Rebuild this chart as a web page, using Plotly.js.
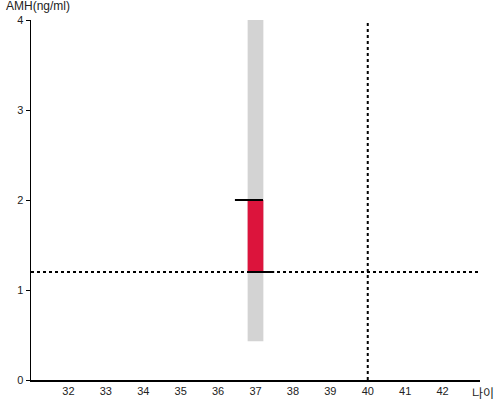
<!DOCTYPE html>
<html><head><meta charset="utf-8">
<script src="https://cdn.plot.ly/plotly-3.0.1.min.js"></script>
<style>html,body{margin:0;padding:0;background:#fff}#chart{width:500px;height:400px}</style>
</head><body><div id="chart"></div>
<script>
const ageValue = [37];
const rangeLow = [0.43];
const rangeHigh = [4.0];
const amhLow = [1.2];
const amhHigh = [2.0];
const refAmh = 1.2;
const refAge = 40;
const xTicks = [32,33,34,35,36,37,38,39,40,41,42];
const yTicks = [0,1,2,3,4];
const xRange = [31, 43];
const yRange = [0, 4];
const topMarkX = [36.45, 37.2];
const bottomMarkX = [36.8, 37.5];

const traces = [
  {type:'bar', x:ageValue, y:[rangeHigh[0]-rangeLow[0]], base:rangeLow, width:0.42,
   marker:{color:'#d3d3d3'}, hoverinfo:'skip'},
  {type:'bar', x:ageValue, y:[amhHigh[0]-amhLow[0]], base:amhLow, width:0.42,
   marker:{color:'#dc143c'}, hoverinfo:'skip'},
  {type:'scatter', mode:'lines', x:xRange, y:[refAmh, refAmh],
   line:{color:'#000', width:2, dash:'dot'}},
  {type:'scatter', mode:'lines', x:[refAge, refAge], y:yRange,
   line:{color:'#000', width:2, dash:'dot'}},
  {type:'scatter', mode:'lines', x:topMarkX, y:[amhHigh[0], amhHigh[0]],
   line:{color:'#000', width:2}},
  {type:'scatter', mode:'lines', x:bottomMarkX, y:[amhLow[0], amhLow[0]],
   line:{color:'#000', width:2}}
];

const layout = {
  width:500, height:400, showlegend:false, barmode:'overlay',
  margin:{l:31, r:20, t:20, b:20},
  paper_bgcolor:'#fff', plot_bgcolor:'#fff',
  font:{family:'Liberation Sans, Arial, sans-serif', size:11, color:'#222'},
  xaxis:{range:xRange, tickvals:xTicks, ticktext:xTicks.map(String), showgrid:false, zeroline:false,
         showline:true, linecolor:'#000', linewidth:1.5, ticks:'', ticklen:0},
  yaxis:{range:yRange, tickvals:yTicks, ticktext:yTicks.map(String), showgrid:false, zeroline:false,
         showline:true, linecolor:'#000', linewidth:1.5, ticks:'outside', ticklen:4, tickcolor:'#000'},
  annotations:[
    {text:'AMH(ng/ml)', xref:'paper', yref:'paper', x:-0.06, y:1.04, xanchor:'left', yanchor:'middle',
     showarrow:false, font:{size:12, color:'#222'}},
    {text:'나이', xref:'paper', yref:'paper', x:1.036, y:-0.036, xanchor:'right', yanchor:'middle',
     showarrow:false, font:{size:12, color:'#222', family:'Noto Sans CJK KR'}}
  ]
};
Plotly.newPlot('chart', traces, layout, {displayModeBar:false, staticPlot:true});
</script></body></html>
